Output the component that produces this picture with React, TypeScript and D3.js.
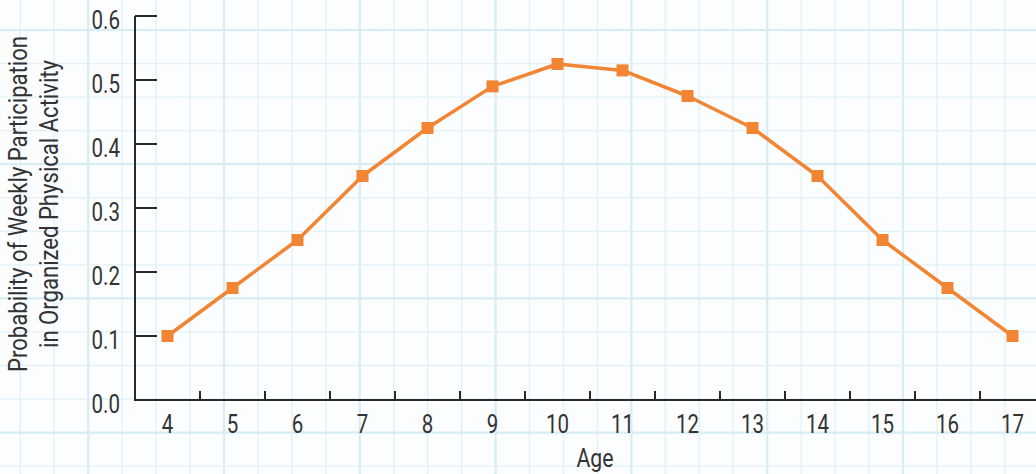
import React from "react";
import * as d3 from "d3";

const ages = ["4", "5", "6", "7", "8", "9", "10", "11", "12", "13", "14", "15", "16", "17"];
const probability = [0.1, 0.175, 0.25, 0.35, 0.425, 0.49, 0.525, 0.515, 0.475, 0.425, 0.35, 0.25, 0.175, 0.1];
const yTicks = [0, 0.1, 0.2, 0.3, 0.4, 0.5, 0.6];
const yTitle = ["Probability of Weekly Participation", "in Organized Physical Activity"];
const xTitle = "Age";

const W = 1036;
const H = 474;
const FONT = "Roboto, 'Liberation Sans', sans-serif";
const ORANGE = "#f28533";
const INK = "#2b2a2a";
const TXT = "#333333";

function CText(props: { x: number; y: number; anchor?: string; size?: number; sx?: number; children: React.ReactNode }) {
  const { x, y, anchor = "middle", size = 25, sx = 0.8, children } = props;
  return (
    <g transform={`translate(${x},${y}) scale(${sx},1)`}>
      <text x={0} y={0} textAnchor={anchor} fontSize={size} fill={TXT} fontWeight={400}>
        {children}
      </text>
    </g>
  );
}

export default function App() {
  const x = d3.scaleBand<string>().domain(ages).range([135, 1045]).padding(0);
  const y = d3.scaleLinear().domain([0, 0.6]).range([400, 16]);
  const cx = (a: string) => (x(a) as number) + x.bandwidth() / 2;

  const line = d3
    .line<number>()
    .x((_, i) => cx(ages[i]))
    .y((d) => y(d));

  // graph paper grid
  const gridStep = 33.95;
  const vLines = d3.range(-1, 32).map((k) => ({ pos: 20.3 + k * gridStep, thick: (k - 6) % 4 === 0 }));
  const hStep = 33.55;
  const hLines = d3.range(-1, 16).map((k) => ({ pos: 30 + k * hStep, thick: k % 4 === 0 }));

  const sq = 12;

  return (
    <svg
      width={W}
      height={H}
      style={{ position: "fixed", left: 0, top: 0, background: "#fbfdfe" }}
      fontFamily={FONT}
    >
      <rect x={0} y={0} width={W} height={H} fill="#fbfdfe" />
      <g>
        {vLines.map((l, i) => (
          <line key={"v" + i} x1={l.pos} x2={l.pos} y1={0} y2={H} stroke={l.thick ? "#d6edf3" : "#e2f1f6"} strokeWidth={l.thick ? 2.2 : 1.3} />
        ))}
        {hLines.map((l, i) => (
          <line key={"h" + i} x1={0} x2={W} y1={l.pos} y2={l.pos} stroke={l.thick ? "#d6edf3" : "#e2f1f6"} strokeWidth={l.thick ? 2.2 : 1.3} />
        ))}
      </g>

      {/* y axis */}
      <line x1={135} x2={135} y1={y(0.6)} y2={y(0) + 1} stroke={INK} strokeWidth={2} />
      {yTicks.map((t) => (
        <g key={t}>
          {t > 0 && <line x1={135} x2={157} y1={y(t)} y2={y(t)} stroke={INK} strokeWidth={2} />}
          <CText x={120} y={y(t) + 12.5} anchor="end" sx={0.82}>
            {t.toFixed(1)}
          </CText>
        </g>
      ))}

      {/* x axis */}
      <line x1={134} x2={W} y1={y(0)} y2={y(0)} stroke={INK} strokeWidth={2} />
      {ages.slice(1).map((a) => (
        <line key={"t" + a} x1={x(a) as number} x2={x(a) as number} y1={y(0)} y2={y(0) - 9} stroke={INK} strokeWidth={2} />
      ))}
      {ages.map((a) => (
        <CText key={"l" + a} x={cx(a)} y={433} sx={0.82}>
          {a}
        </CText>
      ))}
      <CText x={595} y={467} sx={0.85}>
        {xTitle}
      </CText>

      {/* y title */}
      <g transform="translate(27,204) rotate(-90)">
        <CText x={0} y={0} size={26} sx={0.85}>
          {yTitle[0]}
        </CText>
        <CText x={0} y={31} size={26} sx={0.85}>
          {yTitle[1]}
        </CText>
      </g>

      {/* series */}
      <path d={line(probability) || ""} fill="none" stroke={ORANGE} strokeWidth={3.5} strokeLinejoin="round" />
      {probability.map((v, i) => (
        <rect key={"m" + i} x={cx(ages[i]) - sq / 2} y={y(v) - sq / 2} width={sq} height={sq} fill={ORANGE} />
      ))}
    </svg>
  );
}
